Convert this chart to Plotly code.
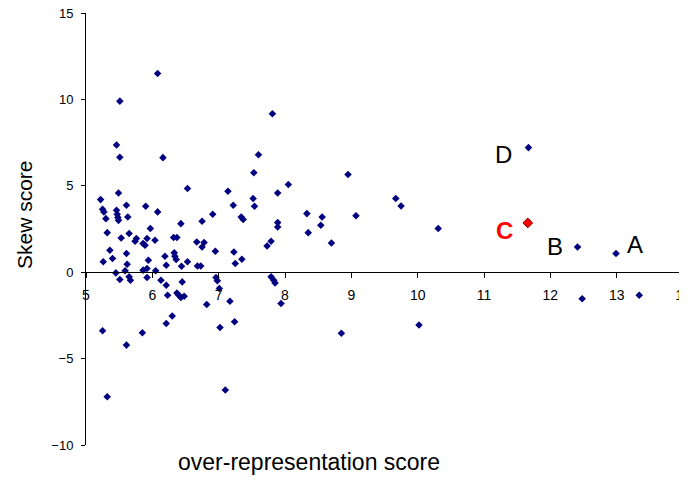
import plotly.graph_objects as go

# over-representation score (x) and skew score (y) for the blue points
over_rep = [5.22, 5.25, 5.27, 5.30, 5.49, 5.46, 5.47, 5.48, 5.49, 5.61, 5.63, 5.32, 5.53, 5.65,
            5.36, 5.40, 5.26, 5.61, 5.62, 5.74, 5.76, 5.86, 5.89, 5.92, 5.90, 5.97, 6.04, 6.08,
            5.94, 5.92, 5.86, 6.05, 5.45, 5.59, 5.51, 5.65, 5.67, 5.92, 6.13, 6.21, 6.23, 6.37,
            6.40, 6.43, 6.48, 6.45, 6.19, 6.21, 6.33, 6.34, 6.36, 6.32, 6.37, 6.43, 6.53, 6.44,
            6.53, 6.67, 6.75, 6.75, 6.78, 6.68, 6.73, 6.91, 6.95, 6.96, 6.98, 7.01, 6.82, 7.14,
            7.22, 7.23, 7.25, 7.34, 7.37, 7.35, 7.17, 7.24, 7.02, 7.10, 7.52, 7.54, 7.89, 8.05,
            7.89, 7.89, 7.73, 7.79, 7.79, 7.83, 7.85, 7.94, 6.21, 6.30, 5.85, 5.25, 5.61, 5.32,
            5.46, 5.51, 5.51, 6.08, 6.16, 7.81, 7.60, 7.53, 8.33, 8.35, 8.56, 8.54, 8.70, 8.95,
            9.07, 9.67, 9.75, 10.31, 8.85, 10.02, 11.67, 12.41, 12.99, 12.48, 13.34]
skew = [4.20, 3.64, 3.49, 3.10, 4.58, 3.58, 3.35, 3.16, 3.00, 3.87, 3.20, 2.29, 1.98, 2.24,
        1.27, 0.79, 0.60, 1.08, 0.46, 1.79, 1.95, 1.66, 1.56, 1.95, 3.82, 2.53, 1.85, 3.49,
        0.69, 0.21, 0.12, 0.08, -0.04, 0.08, -0.42, -0.27, -0.46, -0.31, -0.46, -0.75, -1.33, -1.20,
        -1.33, -1.46, -1.39, -0.56, 0.92, 0.40, 1.12, 0.92, 0.73, 2.01, 2.01, 2.81, 4.84, 0.35,
        0.60, 1.75, 2.95, 1.46, 1.72, 0.36, 0.36, 3.35, 1.21, -0.31, -0.50, -0.94, -1.87, 4.68,
        3.87, 1.17, 0.50, 3.20, 3.05, 0.75, -1.68, -2.87, -3.20, -6.82, 4.26, 3.82, 4.58, 5.07,
        2.87, 2.62, 1.52, 1.79, -0.27, -0.46, -0.62, -1.81, -2.97, -2.54, -3.51, -3.39, -4.22, -7.21,
        7.36, 6.65, 9.90, 11.50, 6.63, 9.17, 6.80, 5.76, 3.39, 2.29, 3.20, 2.72, 1.69, 5.66,
        3.27, 4.26, 3.83, 2.53, -3.53, -3.06, 7.21, 1.46, 1.08, -1.54, -1.33]

# highlighted point C
c_x = [11.66]
c_y = [2.85]

# point labels
label_text = ["D", "C", "B", "A"]
label_x = [11.29, 11.31, 12.07, 13.28]
label_y = [6.79, 2.43, 1.51, 1.59]
label_color = ["black", "#ff0000", "black", "black"]
label_bold = [False, True, False, False]

x_ticks = list(range(5, 15))
y_ticks = [-10, -5, 0, 5, 10, 15]

FONT = "Arial, Liberation Sans, sans-serif"

fig = go.Figure()
fig.add_trace(go.Scatter(x=over_rep, y=skew, mode="markers",
                         marker=dict(symbol="diamond", size=5.8, color="#000080",
                                     line=dict(width=0)),
                         hoverinfo="x+y"))
fig.add_trace(go.Scatter(x=c_x, y=c_y, mode="markers",
                         marker=dict(symbol="diamond", size=7.5, color="#ff0000",
                                     line=dict(width=1, color="#800000"))))

for t, x, y, col, b in zip(label_text, label_x, label_y, label_color, label_bold):
    fig.add_annotation(x=x, y=y, xref="x", yref="y", showarrow=False,
                       xanchor="center", yanchor="middle",
                       text=f"<b>{t}</b>" if b else t,
                       font=dict(family=FONT, size=24, color=col))

fig.add_annotation(x=(309 - 86) / 597, y=(445 - 462) / 432, xref="paper", yref="paper",
                   xanchor="center", yanchor="middle",
                   text="over-representation score", showarrow=False,
                   font=dict(family=FONT, size=23, color="black"))
fig.add_annotation(x=(24 - 86) / 597, y=(445 - 215) / 432, xref="paper", yref="paper",
                   xanchor="center", yanchor="middle",
                   text="Skew score", showarrow=False, textangle=-90,
                   font=dict(family=FONT, size=21, color="black"))

# page body has an 8px default margin, so the figure is sized to fit inside it
fig.update_layout(
    width=679, height=479,
    margin=dict(l=78, r=4, t=5, b=42, autoexpand=False),
    paper_bgcolor="white", plot_bgcolor="white",
    showlegend=False,
    font=dict(family=FONT, color="black"),
    xaxis=dict(range=[5, 14], tickvals=x_ticks, anchor="free", position=0.4,
               showline=True, linecolor="black", linewidth=1,
               ticks="outside", ticklen=5, tickcolor="black",
               showgrid=False, zeroline=False, ticklabelstandoff=5,
               ticklabeloverflow="allow", automargin=False,
               tickfont=dict(family=FONT, size=14, color="black")),
    yaxis=dict(range=[-10, 15], tickvals=y_ticks,
               showline=True, linecolor="black", linewidth=1,
               ticks="outside", ticklen=4, tickcolor="black",
               showgrid=False, zeroline=False, ticklabelstandoff=5,
               ticklabeloverflow="allow", automargin=False,
               tickfont=dict(family=FONT, size=13, color="black")),
)

fig.write_html("out.html")
